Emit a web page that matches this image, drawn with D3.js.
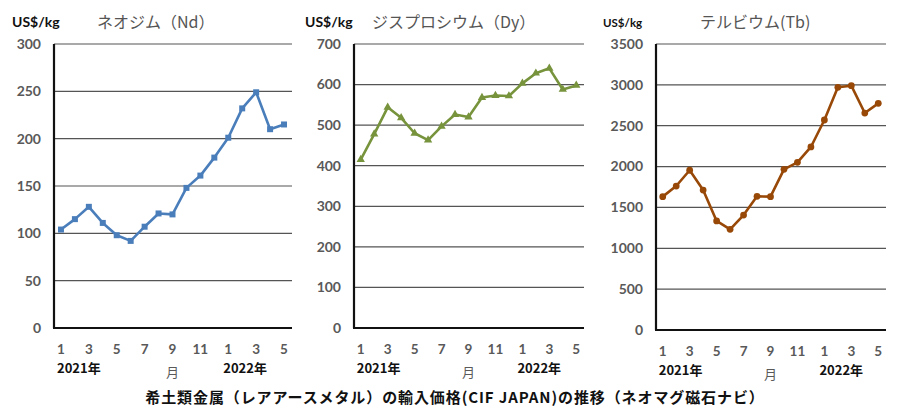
<!DOCTYPE html>
<html lang="ja">
<head>
  <meta charset="UTF-8" />
  <title>希土類金属の輸入価格</title>
  <script src="https://d3js.org/d3.v7.min.js"></script>
  <style>
    body { margin: 0; background: #fff; }
    svg { display: block; }
  </style>
</head>
<body>
  <svg id="chart" width="900" height="420"></svg>
  <script>
    // months Jan 2021 .. May 2022
    const months = [1, 2, 3, 4, 5, 6, 7, 8, 9, 10, 11, 12, 1, 2, 3, 4, 5];
    const ndPrices = [104, 115, 128, 111, 98, 92, 107, 121, 120, 148, 161, 180, 201, 232, 249, 210, 215];
    const dyPrices = [415, 478, 544, 518, 480, 463, 497, 526, 520, 568, 573, 572, 603, 628, 640, 588, 598];
    const tbPrices = [1632, 1762, 1955, 1713, 1335, 1232, 1407, 1636, 1632, 1966, 2052, 2240, 2570, 2970, 2990, 2655, 2774];
    const ndTicks = [0, 50, 100, 150, 200, 250, 300];
    const dyTicks = [0, 100, 200, 300, 400, 500, 600, 700];
    const tbTicks = [0, 500, 1000, 1500, 2000, 2500, 3000, 3500];

    const svg = d3.select("#chart");
    const font = "Lato, 'Noto Sans CJK JP', sans-serif";
    const jpFont = "'Noto Sans CJK JP', sans-serif";

    const panels = [
      { values: ndPrices, ticks: ndTicks, left: 54, right: 291, top: 44, bottom: 328,
        color: "#4a7ebb", marker: "square", title: "ネオジム（Nd）", titleX: 97, unitX: 12, unitSize: 14 },
      { values: dyPrices, ticks: dyTicks, left: 354, right: 583, top: 44, bottom: 328,
        color: "#77933c", marker: "triangle", title: "ジスプロシウム（Dy）", titleX: 372, unitX: 305, unitSize: 14 },
      { values: tbPrices, ticks: tbTicks, left: 656, right: 885, top: 44, bottom: 330,
        color: "#984807", marker: "circle", title: "テルビウム(Tb)", titleX: 700, unitX: 603, unitSize: 11.5 }
    ];

    panels.forEach(p => {
      const g = svg.append("g");
      const x = d3.scaleBand().domain(d3.range(months.length)).range([p.left, p.right]);
      const cx = i => x(i) + x.bandwidth() / 2;
      const y = d3.scaleLinear().domain([0, d3.max(p.ticks)]).range([p.bottom, p.top]);

      // gridlines
      g.selectAll(".grid").data(p.ticks.filter(t => t > 0)).join("line")
        .attr("x1", p.left).attr("x2", p.right + 1)
        .attr("y1", d => y(d)).attr("y2", d => y(d))
        .attr("stroke", "#555").attr("stroke-width", 1.2);

      // y axis labels
      g.selectAll(".ylab").data(p.ticks).join("text")
        .attr("x", p.left - 13).attr("y", d => y(d))
        .attr("dy", "0.35em").attr("text-anchor", "end")
        .attr("font-family", font).attr("font-weight", "bold")
        .attr("font-size", 14).attr("fill", "#595959")
        .text(d => d);

      // axes lines
      g.append("line").attr("x1", p.left).attr("x2", p.left)
        .attr("y1", p.top).attr("y2", p.bottom)
        .attr("stroke", "#111").attr("stroke-width", 2.2);
      g.append("line").attr("x1", p.left - 1).attr("x2", p.right + 1)
        .attr("y1", p.bottom).attr("y2", p.bottom)
        .attr("stroke", "#111").attr("stroke-width", 2.2);

      // x labels (odd months)
      g.selectAll(".xlab").data(months.map((m, i) => ({ m, i })).filter(d => d.m % 2 === 1)).join("text")
        .attr("x", d => cx(d.i)).attr("y", p.bottom + 26)
        .attr("text-anchor", "middle")
        .attr("font-family", font).attr("font-weight", "bold")
        .attr("font-size", 13.5).attr("fill", "#595959")
        .text(d => d.m);

      g.append("text").attr("x", cx(0) - 4).attr("y", p.bottom + 45)
        .attr("font-family", jpFont).attr("font-weight", "bold")
        .attr("font-size", 13).attr("fill", "#111").text("2021年");
      g.append("text").attr("x", cx(12) - 5).attr("y", p.bottom + 45)
        .attr("font-family", jpFont).attr("font-weight", "bold")
        .attr("font-size", 13).attr("fill", "#111").text("2022年");
      g.append("text").attr("x", cx(8)).attr("y", p.bottom + 49)
        .attr("text-anchor", "middle")
        .attr("font-family", jpFont).attr("font-size", 13).attr("fill", "#595959").text("月");

      // line
      const line = d3.line().x((d, i) => cx(i)).y(d => y(d));
      g.append("path").datum(p.values)
        .attr("d", line).attr("fill", "none")
        .attr("stroke", p.color).attr("stroke-width", 2.6)
        .attr("stroke-linejoin", "round");

      // markers
      const symType = p.marker === "square" ? d3.symbolSquare
        : p.marker === "triangle" ? d3.symbolTriangle : d3.symbolCircle;
      const symSize = p.marker === "square" ? 36 : p.marker === "triangle" ? 30 : 36;
      g.selectAll(".pt").data(p.values).join("path")
        .attr("transform", (d, i) => `translate(${cx(i)},${y(d)})`)
        .attr("d", d3.symbol().type(symType).size(symSize))
        .attr("fill", p.color);

      // unit and title
      g.append("text").attr("x", p.unitX).attr("y", 27)
        .attr("font-family", font).attr("font-weight", "bold")
        .attr("font-size", p.unitSize).attr("fill", "#111").text("US$/kg");
      g.append("text").attr("x", p.titleX).attr("y", 28)
        .attr("font-family", jpFont).attr("font-size", 16)
        .attr("fill", "#555").text(p.title);
    });

    svg.append("text").attr("x", 455).attr("y", 403)
      .attr("text-anchor", "middle")
      .attr("font-family", jpFont).attr("font-weight", "bold")
      .attr("font-size", 15).attr("letter-spacing", 0.9).attr("fill", "#111")
      .text("希土類金属（レアアースメタル）の輸入価格(CIF JAPAN)の推移（ネオマグ磁石ナビ）");
  </script>
</body>
</html>
